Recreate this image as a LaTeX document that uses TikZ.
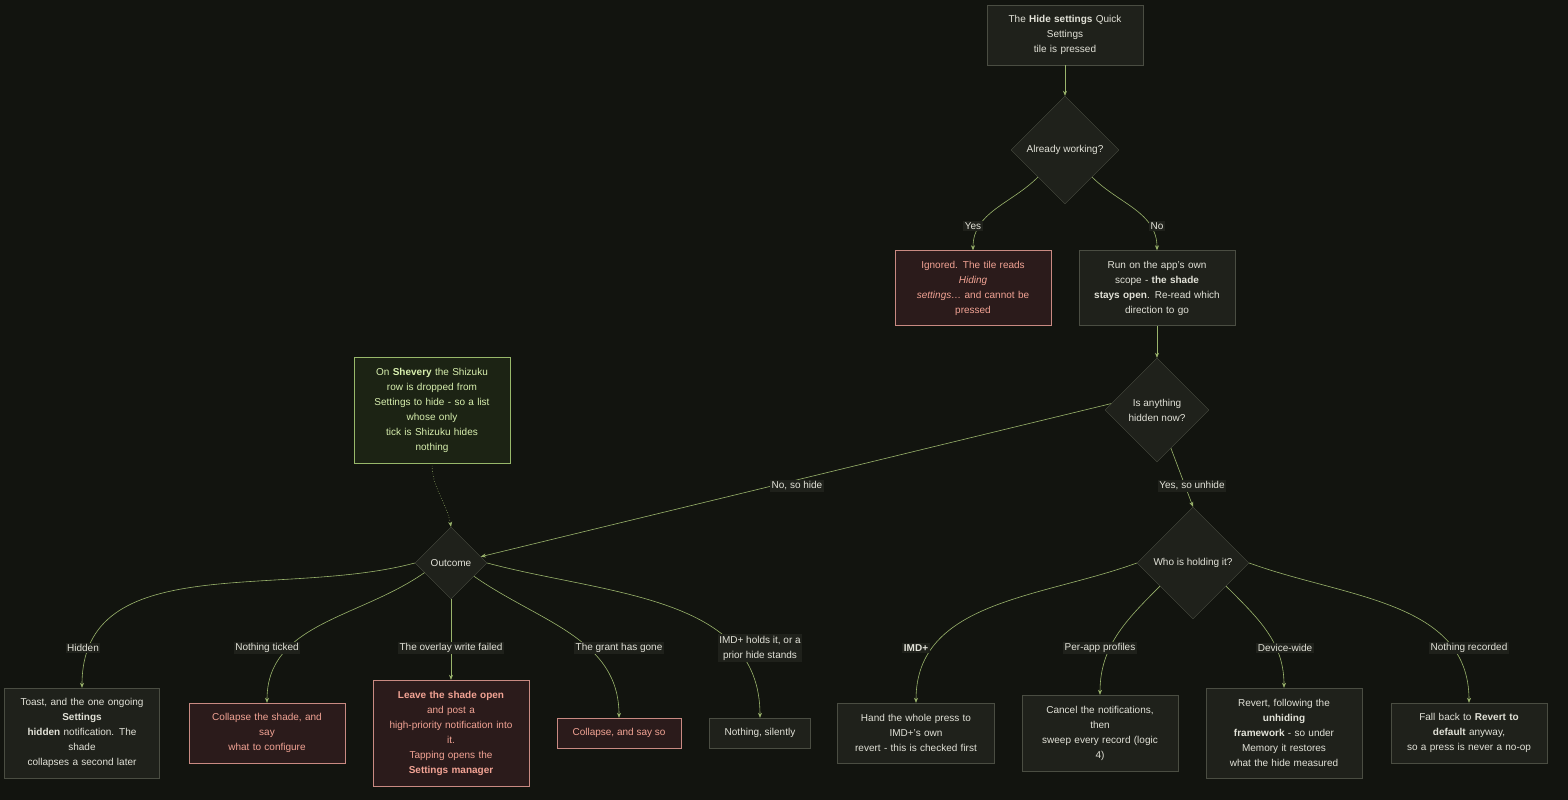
\documentclass[tikz,border=0pt]{standalone}
\usepackage{fontspec}
\setmainfont{Liberation Sans}
\usetikzlibrary{shapes.geometric,arrows.meta}
\definecolor{bg}{HTML}{12140F}
\definecolor{nfill}{HTML}{1F211B}
\definecolor{nline}{HTML}{4A4D42}
\definecolor{ntext}{HTML}{E2E2D8}
\definecolor{rfill}{HTML}{2B1B1B}
\definecolor{rline}{HTML}{C98A82}
\definecolor{rtext}{HTML}{F2A394}
\definecolor{gfill}{HTML}{1C2314}
\definecolor{gline}{HTML}{98B86A}
\definecolor{gtext}{HTML}{D8EFAE}
\definecolor{arrc}{HTML}{9AB46C}
\begin{document}
\begin{tikzpicture}[x=1pt,y=-1pt,font=\fontsize{10}{15}\selectfont,
 box/.style={draw=nline,fill=nfill,text=ntext,align=center,minimum height=30pt,inner sep=4pt},
 red/.style={box,draw=rline,fill=rfill,text=rtext},
 grn/.style={box,draw=gline,fill=gfill,text=gtext},
 dia/.style={diamond,draw=nline,fill=nfill,text=ntext,align=center,inner sep=0pt,minimum width=#1,minimum height=#1},
 lbl/.style={fill=nfill,text=ntext,inner sep=1.5pt,align=center},
 arr/.style={draw=arrc,line width=0.6pt,-{Stealth[length=5pt,width=4pt]}}]
\fill[bg] (0,0) rectangle (1568,800);
\useasboundingbox (0,0) rectangle (1568,800);
% nodes
\node[box,text width=148pt,minimum height=60pt] (top) at (1065,35) {The \textbf{Hide settings} Quick\\Settings\\tile is pressed};
\node[dia=108pt] (aw) at (1065,150) {Already working?};
\node[red,text width=148pt,minimum height=75pt] (ign) at (973,288) {Ignored. The tile reads\\\textit{Hiding}\\\textit{settings…} and cannot be\\pressed};
\node[box,text width=148pt,minimum height=75pt] (run) at (1157,288) {Run on the app's own\\scope - \textbf{the shade}\\\textbf{stays open}. Re-read which\\direction to go};
\node[dia=104pt] (ih) at (1157,410) {Is anything\\hidden now?};
\node[grn,text width=148pt,minimum height=106pt] (note) at (432,410) {On \textbf{Shevery} the Shizuku\\row is dropped from\\Settings to hide - so a list\\whose only\\tick is Shizuku hides\\nothing};
\node[dia=72pt] (oc) at (451,563) {Outcome};
\node[dia=112pt] (who) at (1193,563) {Who is holding it?};
\node[box,text width=147pt,minimum height=90pt] (toast) at (82,733) {Toast, and the one ongoing\\\textbf{Settings}\\\textbf{hidden} notification. The\\shade\\collapses a second later};
\node[red,text width=148pt,minimum height=60pt] (cfg) at (267,733) {Collapse the shade, and\\say\\what to configure};
\node[red,text width=148pt,minimum height=106pt] (leave) at (451,733) {\textbf{Leave the shade open}\\and post a\\high-priority notification into\\it.\\Tapping opens the\\\textbf{Settings manager}};
\node[red,minimum width=124pt] (cs) at (619,733) {Collapse, and say so};
\node[box,minimum width=101pt] (ns) at (760,733) {Nothing, silently};
\node[box,text width=149pt,minimum height=60pt] (hand) at (916,733) {Hand the whole press to\\IMD+'s own\\revert - this is checked first};
\node[box,text width=148pt,minimum height=76pt] (canc) at (1100,733) {Cancel the notifications,\\then\\sweep every record (logic\\4)};
\node[box,text width=148pt,minimum height=90pt] (rev) at (1284,733) {Revert, following the\\\textbf{unhiding}\\\textbf{framework} - so under\\Memory it restores\\what the hide measured};
\node[box,text width=148pt,minimum height=60pt] (fb) at (1469,733) {Fall back to \textbf{Revert to}\\\textbf{default} anyway,\\so a press is never a no-op};
% edges
\draw[arr] (top) -- (aw);
\draw[arr] (aw.225) to[out=225,in=90] (ign.north);
\draw[arr] (aw.315) to[out=-45,in=90] (run.north);
\draw[arr] (run) -- (ih);
\draw[arr] (ih.172) -- (oc.12);
\draw[arr] (ih.290) -- (who.north);
\draw[arr,dotted] (note.south) to[out=-90,in=100] (oc.north);
\draw[arr] (oc.west) to[out=195,in=90] (toast.north);
\draw[arr] (oc.200) to[out=215,in=90] (cfg.north);
\draw[arr] (oc.south) -- (leave.north);
\draw[arr] (oc.330) to[out=-35,in=90] (cs.north);
\draw[arr] (oc.east) to[out=-15,in=90] (ns.north);
\draw[arr] (who.west) to[out=200,in=90] (hand.north);
\draw[arr] (who.215) to[out=225,in=90] (canc.north);
\draw[arr] (who.325) to[out=-45,in=90] (rev.north);
\draw[arr] (who.east) to[out=-20,in=90] (fb.north);
% labels
\node[lbl] at (973,226) {Yes};
\node[lbl] at (1157,226) {No};
\node[lbl] at (797,486) {No, so hide};
\node[lbl] at (1192,486) {Yes, so unhide};
\node[lbl] at (83,648) {Hidden};
\node[lbl] at (267,648) {Nothing ticked};
\node[lbl] at (451,648) {The overlay write failed};
\node[lbl] at (619,648) {The grant has gone};
\node[lbl] at (760,648) {IMD+ holds it, or a\\prior hide stands};
\node[lbl] at (916,648) {\textbf{IMD+}};
\node[lbl] at (1100,648) {Per-app profiles};
\node[lbl] at (1285,648) {Device-wide};
\node[lbl] at (1469,648) {Nothing recorded};
\end{tikzpicture}
\end{document}
